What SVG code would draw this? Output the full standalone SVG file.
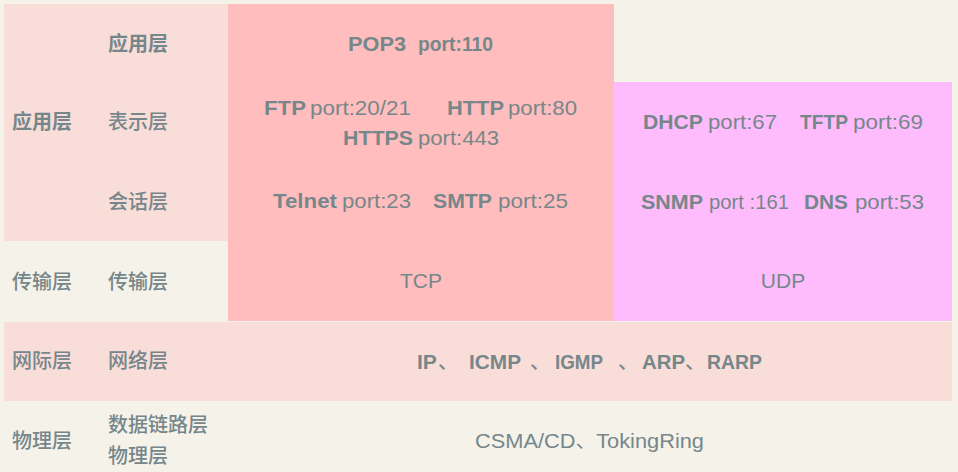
<svg xmlns="http://www.w3.org/2000/svg" width="958" height="472" viewBox="0 0 958 472">
<style>
.t{font-family:"Liberation Sans","Noto Sans CJK SC",Arial,sans-serif;font-size:21px;fill:#76878b}
.c{font-family:"Noto Sans CJK SC","Liberation Sans",sans-serif;font-size:20px;font-weight:500;fill:#76878b}
.b{font-weight:bold}
.m{text-anchor:middle}
.dither{fill:#f9ddd8}
.pink{fill:#ffbdbd}
.mag{fill:#ffbcfd}
</style>
<rect x="0" y="0" width="958" height="472" fill="#f5f2ea"/>
<g id="app-left">
<rect class="dither" x="4" y="4" width="224" height="237"/>
<text class="c b" x="12" y="129">应用层</text>
<text class="c b" x="108" y="51">应用层</text>
<text class="c" x="108" y="129">表示层</text>
<text class="c" x="108" y="209">会话层</text>
</g>
<g id="tcp-block">
<rect class="pink" x="228" y="4" width="386" height="317"/>
<text class="t b" x="348" y="51" textLength="58" lengthAdjust="spacingAndGlyphs">POP3</text>
<text class="t b" x="418" y="51" textLength="75" lengthAdjust="spacingAndGlyphs">port:110</text>
<text class="t b" x="264" y="115" textLength="42" lengthAdjust="spacingAndGlyphs">FTP</text>
<text class="t" x="310" y="115" textLength="101" lengthAdjust="spacingAndGlyphs">port:20/21</text>
<text class="t b" x="447" y="115" textLength="57" lengthAdjust="spacingAndGlyphs">HTTP</text>
<text class="t" x="508" y="115" textLength="69" lengthAdjust="spacingAndGlyphs">port:80</text>
<text class="t b" x="343" y="145" textLength="70" lengthAdjust="spacingAndGlyphs">HTTPS</text>
<text class="t" x="418" y="145" textLength="81" lengthAdjust="spacingAndGlyphs">port:443</text>
<text class="t b" x="273" y="208" textLength="64" lengthAdjust="spacingAndGlyphs">Telnet</text>
<text class="t" x="342" y="208" textLength="69" lengthAdjust="spacingAndGlyphs">port:23</text>
<text class="t b" x="433" y="208" textLength="59" lengthAdjust="spacingAndGlyphs">SMTP</text>
<text class="t" x="498" y="208" textLength="70" lengthAdjust="spacingAndGlyphs">port:25</text>
<text class="t m" x="421" y="288">TCP</text>
</g>
<g id="udp-block">
<rect class="mag" x="614" y="82" width="338" height="239"/>
<text class="t b" x="643" y="129" textLength="60" lengthAdjust="spacingAndGlyphs">DHCP</text>
<text class="t" x="708" y="129" textLength="69" lengthAdjust="spacingAndGlyphs">port:67</text>
<text class="t b" x="800" y="129" textLength="48" lengthAdjust="spacingAndGlyphs">TFTP</text>
<text class="t" x="853" y="129" textLength="70" lengthAdjust="spacingAndGlyphs">port:69</text>
<text class="t b" x="641" y="209" textLength="62" lengthAdjust="spacingAndGlyphs">SNMP</text>
<text class="t" x="709" y="209" textLength="80" lengthAdjust="spacingAndGlyphs">port :161</text>
<text class="t b" x="804" y="209" textLength="44" lengthAdjust="spacingAndGlyphs">DNS</text>
<text class="t" x="855" y="209" textLength="69" lengthAdjust="spacingAndGlyphs">port:53</text>
<text class="t m" x="783" y="288">UDP</text>
</g>
<g id="transport-left">
<text class="c" x="12" y="289">传输层</text>
<text class="c" x="108" y="289">传输层</text>
</g>
<g id="network-row">
<rect class="dither" x="4" y="322" width="948" height="79"/>
<text class="c" x="12" y="368">网际层</text>
<text class="c" x="108" y="368">网络层</text>
<text class="t b" x="417" y="369">IP</text>
<text class="c" x="438" y="369">、</text>
<text class="t b" x="469" y="369" textLength="52" lengthAdjust="spacingAndGlyphs">ICMP</text>
<text class="c" x="530" y="369">、</text>
<text class="t b" x="555" y="369" textLength="48" lengthAdjust="spacingAndGlyphs">IGMP</text>
<text class="c" x="618" y="369">、</text>
<text class="t b" x="642" y="369" textLength="43" lengthAdjust="spacingAndGlyphs">ARP</text>
<text class="c" x="685" y="369">、</text>
<text class="t b" x="707" y="369" textLength="55" lengthAdjust="spacingAndGlyphs">RARP</text>
</g>
<g id="physical-row">
<text class="c" x="12" y="448">物理层</text>
<text class="c" x="108" y="432">数据链路层</text>
<text class="c" x="108" y="463">物理层</text>
<text class="t" x="475" y="448" textLength="229" lengthAdjust="spacingAndGlyphs">CSMA/CD<tspan class="c" style="font-weight:400">、</tspan>TokingRing</text>
</g>
</svg>
